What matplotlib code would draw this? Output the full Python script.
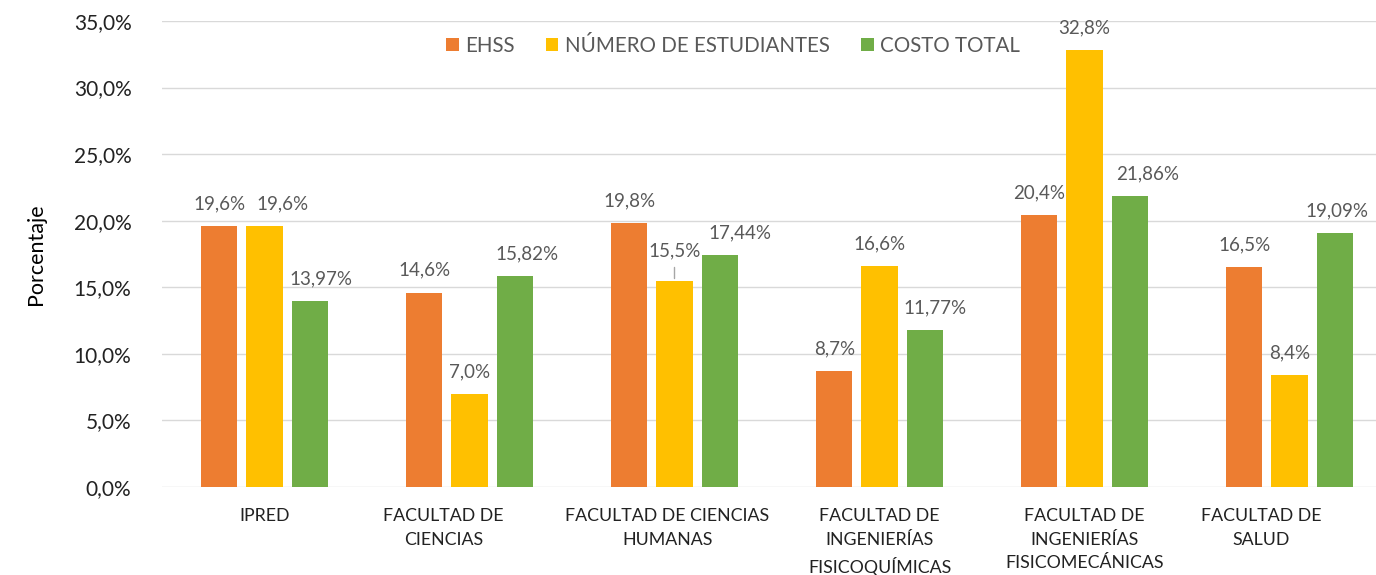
import matplotlib
matplotlib.use("Agg")
import matplotlib.pyplot as plt
import numpy as np

categories = ["IPRED", "FACULTAD DE\nCIENCIAS", "FACULTAD DE CIENCIAS\nHUMANAS",
              "FACULTAD DE\nINGENIERÍAS\nFISICOQUÍMICAS", "FACULTAD DE\nINGENIERÍAS\nFISICOMECÁNICAS",
              "FACULTAD DE\nSALUD"]
series_names = ["EHSS", "NÚMERO DE ESTUDIANTES", "COSTO TOTAL"]
ehss = [19.6, 14.6, 19.8, 8.7, 20.4, 16.5]
estudiantes = [19.6, 7.0, 15.5, 16.6, 32.8, 8.4]
costo = [13.97, 15.82, 17.44, 11.77, 21.86, 19.09]
yticks = [0, 5, 10, 15, 20, 25, 30, 35]

# layout tweaks (pixels): horizontal shifts of data labels and category labels
label_dx = [[0, 0, 0, 0, 0, 0],
            [18, 0, 0, 0, 0, 0],
            [11, 12, 20, 10, 18, 2]]
cat_dx = [0, -26, -7, 0, 0, -28]

colors = ["#ED7D31", "#FFC000", "#70AD47"]
plt.rcParams['font.family'] = ['Lato', 'DejaVu Sans']

DPI = 100
fig = plt.figure(figsize=(13.76, 5.75), dpi=DPI)
ax_w_px = 1230
ax = fig.add_axes([162/1376, 88/575, ax_w_px/1376, 466/575])

x = np.arange(len(categories))
w = 0.176
step = 0.22
data = [ehss, estudiantes, costo]
decs = [1, 1, 2]
px = 72 / DPI
for i, (vals, c, name, d) in enumerate(zip(data, colors, series_names, decs)):
    pos = x + (i - 1) * step
    ax.bar(pos, vals, width=w, color=c, label=name, zorder=2)
    for j, (p, v) in enumerate(zip(pos, vals)):
        txt = f"{v:.{d}f}%".replace(".", ",")
        if i == 1 and j == 2:
            ax.annotate(txt, xy=(p, v), xytext=(0, 30 * px), textcoords="offset points",
                        ha="center", va="center", fontsize=13.5, color="#595959",
                        arrowprops=dict(arrowstyle="-", color="#A6A6A6", lw=1,
                                        shrinkA=4, shrinkB=1.5))
        else:
            ax.annotate(txt, xy=(p, v), xytext=(label_dx[i][j] * px, 10),
                        textcoords="offset points",
                        ha="center", va="bottom", fontsize=13.5, color="#595959")

ax.set_xlim(-0.5, len(categories) - 0.5)
ax.set_ylim(0, 35)
ax.set_yticks(yticks)
ax.set_yticklabels([f"{t:.1f}%".replace(".", ",") for t in yticks], fontsize=15, color="#222222")
px_per_cat = ax_w_px / len(categories)
ax.set_xticks(x + np.array(cat_dx) / px_per_cat)
ax.set_xticklabels(categories, fontsize=12.8, color="#222222", linespacing=1.6)
ax.tick_params(axis="both", length=0)
ax.tick_params(axis="y", pad=22)
ax.tick_params(axis="x", pad=15)
ax.yaxis.grid(True, color="#D9D9D9", lw=1, zorder=0)
ax.set_axisbelow(True)
for s in ax.spines.values():
    s.set_visible(False)
ax.set_ylabel("Porcentaje", fontsize=15.5, labelpad=20)

fig.legend(loc="center", bbox_to_anchor=(733/1376, 1 - 46/575), ncol=3, frameon=False,
           fontsize=14.8, handlelength=0.6, handleheight=0.6, handletextpad=0.3,
           columnspacing=1.55, labelcolor="#595959")

fig.savefig("out.png", dpi=DPI)
